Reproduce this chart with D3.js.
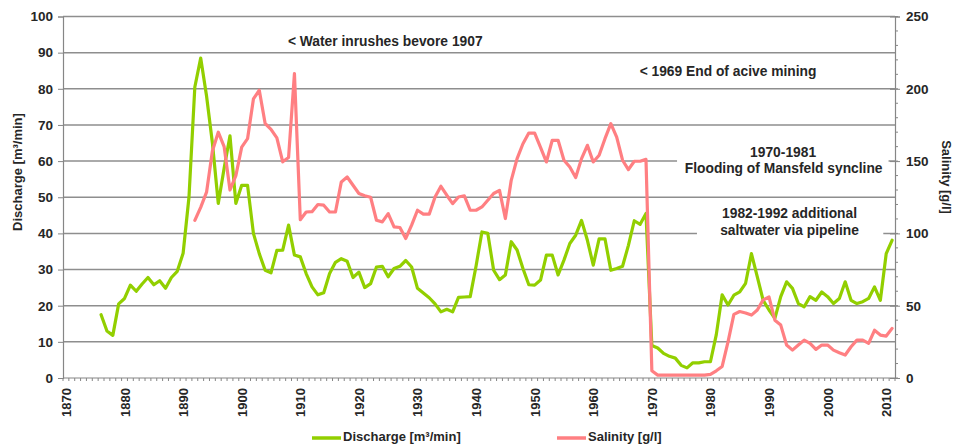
<!DOCTYPE html>
<html>
<head>
<meta charset="utf-8">
<script src="https://cdn.jsdelivr.net/npm/d3@7/dist/d3.min.js"></script>
<style>
  html, body { margin: 0; padding: 0; background: #fff; }
  svg { display: block; font-family: "Liberation Sans", Arial, sans-serif; }
</style>
</head>
<body>
<svg id="chart" width="961" height="446"></svg>
<script>
// ---- Data ----
const years = d3.range(1870, 2012); // category axis 1870..2011
const dischargeStart = 1876;
const discharge = [
  17.5, 13, 11.8, 20.5, 22, 25.7, 24, 26, 27.8, 25.8,          // 1876-1885
  26.9, 24.8, 27.8, 29.5, 34.5, 50, 80.5, 88.5, 78, 65,         // 1886-1895
  48.3, 58, 67, 48.3, 53.3, 53.3, 40, 34.4, 29.8, 29.1,         // 1896-1905
  35.3, 35.4, 42.3, 34, 33.5, 28.9, 25.2, 23, 23.6, 28.9,       // 1906-1915
  32, 33, 32.3, 27.8, 29.3, 25, 26.1, 30.7, 30.9, 28,           // 1916-1925
  30.3, 30.9, 32.5, 30.7, 24.8, 23.5, 22.2, 20.5, 18.3, 19,     // 1926-1935
  18.3, 22.3, 22.4, 22.5, 31, 40.4, 40, 29.8, 27.2, 28.5,       // 1936-1945
  37.7, 35.4, 30.3, 25.8, 25.7, 27.1, 34, 34, 28.5, 32.6,       // 1946-1955
  37.2, 39.5, 43.6, 38.1, 31.2, 38.5, 38.5, 29.8, 30.3, 30.9,   // 1956-1965
  36.7, 43.5, 42.5, 45.5, 9, 8.3, 6.8, 6, 5.5, 3.5,             // 1966-1975
  2.8, 4.2, 4.2, 4.5, 4.5, 12, 23, 20.2, 22.9, 23.8,            // 1976-1985
  26.2, 34.4, 28, 21.5, 18.8, 16.5, 22.5, 26.6, 24.8, 20.6,     // 1986-1995
  19.7, 22.5, 21.5, 23.8, 22.5, 20.6, 22, 26.6, 21.5, 20.6,     // 1996-2005
  21.1, 22, 25.2, 21.5, 34.4, 38.1                              // 2006-2011
];
const salinityStart = 1892;
const salinity = [
  109, 118, 128.5, 157, 170, 160, 130, 140,                     // 1892-1899
  159.7, 165.5, 193, 199, 176, 172, 166, 149.5, 152.5, 210.5,   // 1900-1909
  109.5, 114.8, 115, 120, 119.5, 114.8, 114.8, 135.6, 139, 133.3, // 1910-1919
  127.6, 126, 125, 109.1, 108, 113.7, 104.5, 104.1, 96.5, 105.7,  // 1920-1929
  116, 113.3, 113.3, 125.2, 132.6, 126.4, 120.6, 125.2, 126, 116, // 1930-1939
  116, 118.3, 122.9, 127.6, 129.8, 110.3, 136.7, 151.7, 162, 169.4, // 1940-1949
  169.4, 159.5, 149.4, 164.4, 164.4, 150.6, 145.9, 138.6, 151.7, 160.9, // 1950-1959
  149.4, 154, 165.5, 175.9, 166.6, 150.6, 144.1, 149.9, 149.9, 151.2,   // 1960-1969
  5, 2, 2, 2, 2, 2, 2, 2, 2, 2,                                 // 1970-1979
  2.5, 5, 8, 25, 44, 46, 45, 43.5, 47, 54,                      // 1980-1989
  56, 40, 36.6, 22.8, 19.3, 22.8, 26.2, 24, 19.8, 22.8,         // 1990-1999
  22.8, 19.3, 17.5, 15.9, 21.6, 26.2, 26.2, 24, 33, 29.7,       // 2000-2009
  29, 34.3                                                      // 2010-2011
];
const leftTicks = [0, 10, 20, 30, 40, 50, 60, 70, 80, 90, 100];
const rightTicks = [0, 50, 100, 150, 200, 250];
const yearLabels = d3.range(1870, 2011, 10);
const annotations = [
  { text: "< Water inrushes bevore 1907", x: 1925.0, y: 92.9 },
  { text: "< 1969 End of acive mining", x: 1983.5, y: 84.6 },
  { text: "1970-1981", x: 1992.9, y: 62.2 },
  { text: "Flooding of Mansfeld syncline", x: 1993.0, y: 57.8 },
  { text: "1982-1992 additional", x: 1994.0, y: 45.4 },
  { text: "saltwater via pipeline", x: 1994.0, y: 40.7 }
];
const maskBoxes = [
  { x0: 1974.8, x1: 2010.9, y0: 65.5, y1: 54.5 },
  { x0: 1978.2, x1: 2010.0, y0: 48.5, y1: 37.5 }
];

// ---- Layout ----
const svg = d3.select("#chart");
const L = 63, R = 895, T = 16.5, B = 378;
const green = "#92cf00", pink = "#ff7f82", gridCol = "#8e8e8e", axisCol = "#868686", txt = "#262626";

const x = d3.scaleBand().domain(years).range([L, R]).padding(0);
const xc = yr => x(yr) + x.bandwidth() / 2;
const xLin = d3.scaleLinear().domain([1870, 2012]).range([L, R]);
const yL = d3.scaleLinear().domain([0, 100]).range([B, T]);
const yR = d3.scaleLinear().domain([0, 250]).range([B, T]);

// gridlines
svg.append("g").selectAll("line").data(leftTicks.filter(d => d > 0)).join("line")
  .attr("x1", L).attr("x2", R).attr("y1", d => yL(d)).attr("y2", d => yL(d))
  .attr("stroke", gridCol).attr("stroke-width", 1.5);

// left axis
const gL = svg.append("g").attr("transform", `translate(${L},0)`)
  .call(d3.axisLeft(yL).tickValues(leftTicks).tickSize(5).tickPadding(5));
gL.select(".domain").attr("stroke", axisCol).attr("stroke-width", 1.2);
gL.selectAll(".tick line").attr("stroke", axisCol);
gL.selectAll("text").attr("font-size", 13.5).attr("font-weight", "bold").attr("fill", txt)
  .attr("font-family", "Liberation Sans, Arial, sans-serif");

// right axis minor ticks
svg.append("g").selectAll("line").data(d3.range(0, 251, 10)).join("line")
  .attr("x1", R).attr("x2", R + 3).attr("y1", d => yR(d)).attr("y2", d => yR(d))
  .attr("stroke", axisCol);
const gR = svg.append("g").attr("transform", `translate(${R},0)`)
  .call(d3.axisRight(yR).tickValues(rightTicks).tickSize(5).tickPadding(6));
gR.select(".domain").attr("stroke", axisCol).attr("stroke-width", 1.2);
gR.selectAll(".tick line").attr("x1", -5).attr("stroke", axisCol);
gR.selectAll("text").attr("font-size", 13.5).attr("font-weight", "bold").attr("fill", txt)
  .attr("font-family", "Liberation Sans, Arial, sans-serif");

// bottom axis
svg.append("line").attr("x1", L).attr("x2", R).attr("y1", B).attr("y2", B)
  .attr("stroke", axisCol).attr("stroke-width", 1.2);
svg.append("g").selectAll("line").data(d3.range(1870, 2013)).join("line")
  .attr("x1", d => xLin(d)).attr("x2", d => xLin(d)).attr("y1", B).attr("y2", B + 3)
  .attr("stroke", axisCol);
svg.append("g").selectAll("text").data(yearLabels).join("text")
  .attr("transform", d => `translate(${xc(d) + 5},${B + 10}) rotate(-90)`)
  .attr("text-anchor", "end")
  .attr("font-size", 13).attr("font-weight", "bold").attr("fill", txt)
  .text(d => d);

// annotation mask boxes (hide gridlines behind text)
svg.append("g").selectAll("rect").data(maskBoxes).join("rect")
  .attr("x", d => xLin(d.x0)).attr("width", d => xLin(d.x1) - xLin(d.x0))
  .attr("y", d => yL(d.y0)).attr("height", d => yL(d.y1) - yL(d.y0))
  .attr("fill", "#fff");

// lines
const dData = discharge.map((v, i) => ({ yr: dischargeStart + i, v }));
const sData = salinity.map((v, i) => ({ yr: salinityStart + i, v }));
svg.append("path").datum(dData)
  .attr("d", d3.line().x(d => xc(d.yr)).y(d => yL(d.v)))
  .attr("fill", "none").attr("stroke", green).attr("stroke-width", 3.2)
  .attr("stroke-linejoin", "round").attr("stroke-linecap", "round");
svg.append("path").datum(sData)
  .attr("d", d3.line().x(d => xc(d.yr)).y(d => yR(d.v)))
  .attr("fill", "none").attr("stroke", pink).attr("stroke-width", 3.2)
  .attr("stroke-linejoin", "round").attr("stroke-linecap", "round");

// annotations
svg.append("g").selectAll("text").data(annotations).join("text")
  .attr("x", d => xLin(d.x)).attr("y", d => yL(d.y))
  .attr("text-anchor", "middle").attr("dominant-baseline", "middle")
  .attr("font-size", 13.8).attr("font-weight", "bold").attr("fill", txt)
  .text(d => d.text);

// axis titles
svg.append("text").attr("transform", "translate(22,172) rotate(-90)")
  .attr("text-anchor", "middle").attr("font-size", 13).attr("font-weight", "bold").attr("fill", txt)
  .text("Discharge [m³/min]");
svg.append("text").attr("transform", "translate(942,177) rotate(90)")
  .attr("text-anchor", "middle").attr("font-size", 13).attr("font-weight", "bold").attr("fill", txt)
  .text("Salinity [g/l]");

// legend
const legend = [
  { label: "Discharge [m³/min]", color: green, x: 312 },
  { label: "Salinity [g/l]", color: pink, x: 557 }
];
const lg = svg.append("g").selectAll("g").data(legend).join("g")
  .attr("transform", d => `translate(${d.x},438)`);
lg.append("line").attr("x1", 0).attr("x2", 29).attr("y1", 0).attr("y2", 0)
  .attr("stroke", d => d.color).attr("stroke-width", 3.5);
lg.append("text").attr("x", 31).attr("y", 0).attr("dominant-baseline", "middle")
  .attr("font-size", 13).attr("font-weight", "bold").attr("fill", txt)
  .text(d => d.label);
</script>
</body>
</html>
